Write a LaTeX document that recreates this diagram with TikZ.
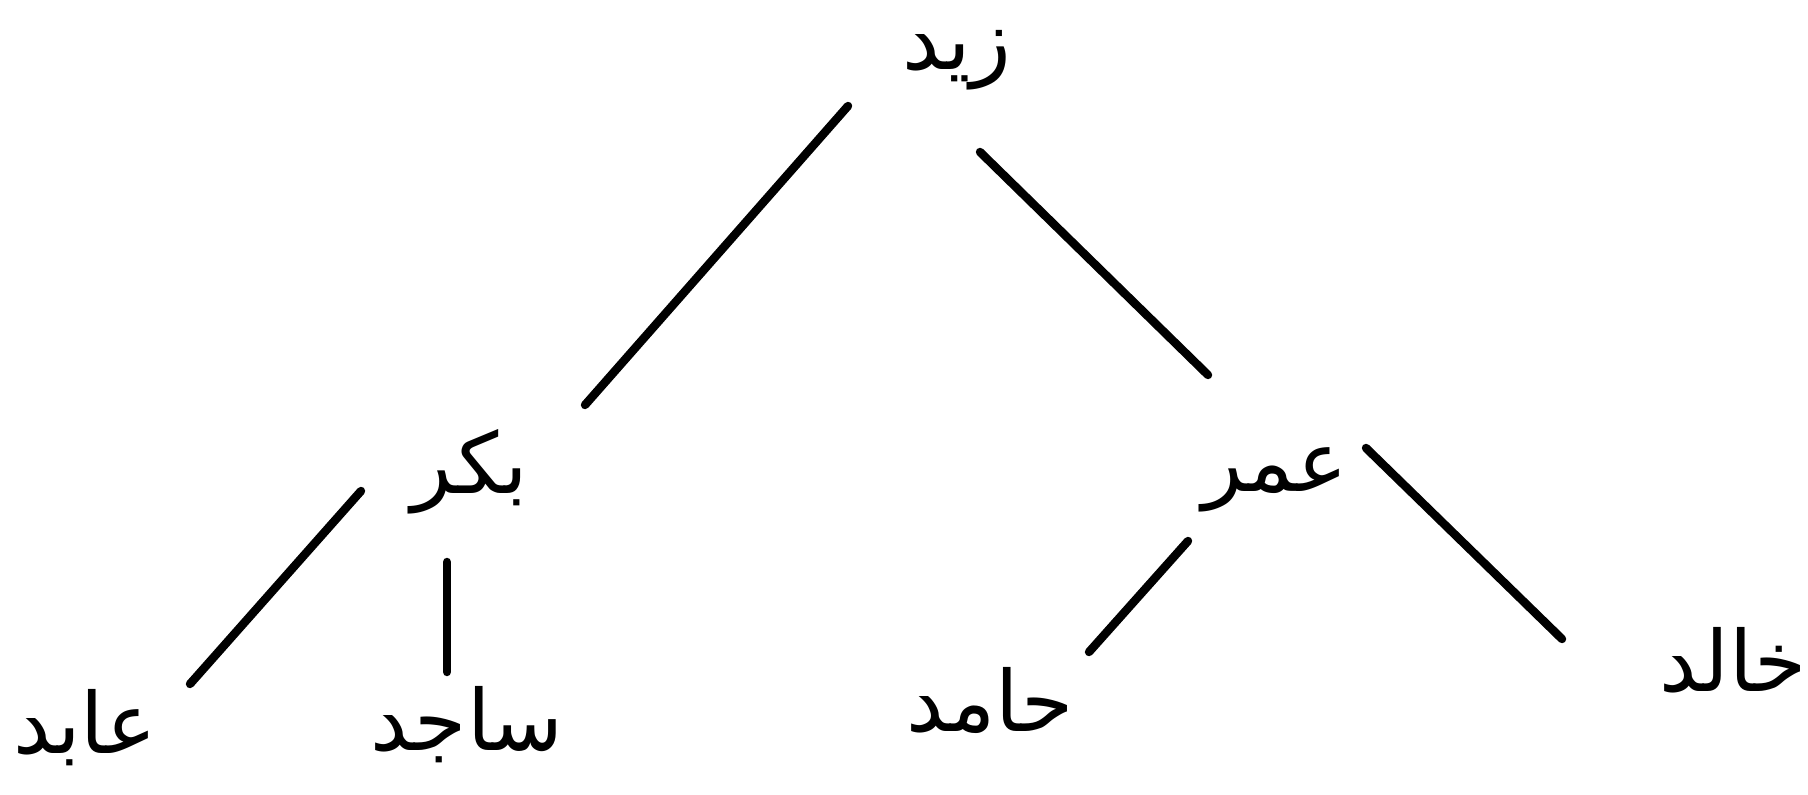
\documentclass[tikz,border=0pt]{standalone}
\usepackage{fontspec}
\newfontfamily\urdufont[Script=Arabic]{DejaVu Sans}
\TeXXeTstate=1
\newcommand{\rtlword}[1]{\beginR#1\endR}

\begin{document}
\begin{tikzpicture}[
  person/.style={font=\urdufont\fontsize{24}{28}\selectfont, inner sep=0pt},
  branch/.style={line width=2.4pt, line cap=round}
]
\useasboundingbox (0,0) rectangle (18.08,7.94);
% family tree
\node[person] (zaid) at (9.57,7.34) {\rtlword{زید}};
\node[person] (bakr) at (4.70,3.22) {\rtlword{بکر}};
\node[person] (umar) at (12.75,3.14) {\rtlword{عمر}};
\node[person] (abid) at (0.85,0.66) {\rtlword{عابد}};
\node[person] (sajid) at (4.67,0.69) {\rtlword{ساجد}};
\node[person] (hamid) at (9.90,0.94) {\rtlword{حامد}};
\node[person] (khalid) at (17.33,1.34) {\rtlword{خالد}};
\draw[branch] ([shift={(-1.09,-0.46)}]zaid.center) -- ([shift={(1.15,0.67)}]bakr.center);
\draw[branch] ([shift={(0.23,-0.92)}]zaid.center) -- ([shift={(-0.67,1.05)}]umar.center);
\draw[branch] ([shift={(-1.09,-0.19)}]bakr.center) -- ([shift={(1.05,0.44)}]abid.center);
\draw[branch] ([shift={(-0.23,-0.90)}]bakr.center) -- ([shift={(-0.20,0.53)}]sajid.center);
\draw[branch] ([shift={(-0.87,-0.61)}]umar.center) -- ([shift={(0.99,0.48)}]hamid.center);
\draw[branch] ([shift={(0.91,0.32)}]umar.center) -- ([shift={(-1.71,0.21)}]khalid.center);
\end{tikzpicture}
\end{document}
